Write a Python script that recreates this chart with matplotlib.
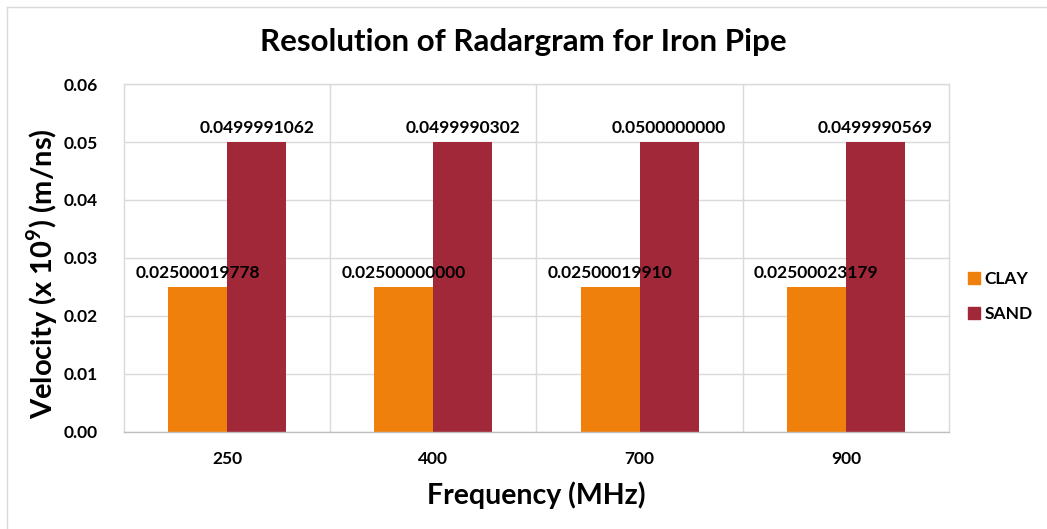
import matplotlib
matplotlib.use("Agg")
import matplotlib.pyplot as plt
from matplotlib.lines import Line2D
import numpy as np

plt.rcParams["font.family"] = ["Lato", "DejaVu Sans"]
plt.rcParams["font.weight"] = "bold"
plt.rcParams["mathtext.fontset"] = "custom"
plt.rcParams["mathtext.bf"] = "Lato:bold"
plt.rcParams["mathtext.rm"] = "Lato:bold"

frequencies = ["250", "400", "700", "900"]
clay = [0.02500019778, 0.02500000000, 0.02500019910, 0.02500023179]
sand = [0.0499991062, 0.0499990302, 0.0500000000, 0.0499990569]
clay_labels = ["0.02500019778", "0.02500000000", "0.02500019910", "0.02500023179"]
sand_labels = ["0.0499991062", "0.0499990302", "0.0500000000", "0.0499990569"]

clay_color = "#F0800C"
sand_color = "#A02838"
grid_color = "#D9D9D9"

fig = plt.figure(figsize=(10.47, 5.29), dpi=100)
ax = fig.add_axes([0.1184, 0.1834, 0.788, 0.6578])

x = np.arange(len(frequencies))
w = 0.286
b1 = ax.bar(x - w / 2, clay, w, color=clay_color, label="CLAY", zorder=2)
b2 = ax.bar(x + w / 2, sand, w, color=sand_color, label="SAND", zorder=2)

ax.bar_label(b1, labels=clay_labels, padding=4, fontsize=12.5, fontweight="bold", zorder=5)
ax.bar_label(b2, labels=sand_labels, padding=4, fontsize=12.5, fontweight="bold", zorder=5)

ax.set_xlim(-0.5, len(frequencies) - 0.5)
ax.set_ylim(0, 0.06)
ax.set_yticks(np.arange(0, 0.061, 0.01))
ax.set_yticklabels([f"{v:.2f}" for v in np.arange(0, 0.061, 0.01)])
ax.set_xticks(x)
ax.set_xticklabels(frequencies)
ax.set_xticks(np.arange(0.5, len(frequencies) - 0.5), minor=True)
ax.tick_params(axis="both", which="both", length=0, labelsize=12.5)
ax.tick_params(axis="y", pad=19)
ax.tick_params(axis="x", pad=14)
ax.grid(axis="y", color=grid_color, linewidth=1, zorder=0)
ax.grid(axis="x", which="minor", color=grid_color, linewidth=1, zorder=0)
for s in ax.spines.values():
    s.set_color(grid_color)
    s.set_linewidth(1)
ax.spines["bottom"].set_color("#BFBFBF")

ax.set_xlabel("Frequency (MHz)", fontsize=20.5, fontweight="bold", labelpad=10)
ax.set_ylabel("Velocity (x 10$^{\\mathbf{9}}$) (m/ns)", fontsize=21, fontweight="bold")
ax.yaxis.set_label_coords(-0.078, 0.454)
fig.text(0.5, 0.92, "Resolution of Radargram for Iron Pipe", ha="center", va="center",
         fontsize=22.5, fontweight="bold")

handles = [Line2D([0], [0], marker="s", linestyle="none", markersize=9,
                  markerfacecolor=c, markeredgecolor=c) for c in (clay_color, sand_color)]
fig.legend(handles, ["CLAY", "SAND"], loc="center left", bbox_to_anchor=(0.922, 0.44),
           frameon=False, fontsize=12.5, handletextpad=0.1, labelspacing=1.1,
           handlelength=1, borderpad=0, borderaxespad=0)

# chart border (left and top edge visible)
fig.add_artist(Line2D([0.0067, 0.0067], [0, 0.987], color=grid_color, linewidth=1))
fig.add_artist(Line2D([0.0067, 1], [0.987, 0.987], color=grid_color, linewidth=1))

fig.savefig("out.png", dpi=100)
